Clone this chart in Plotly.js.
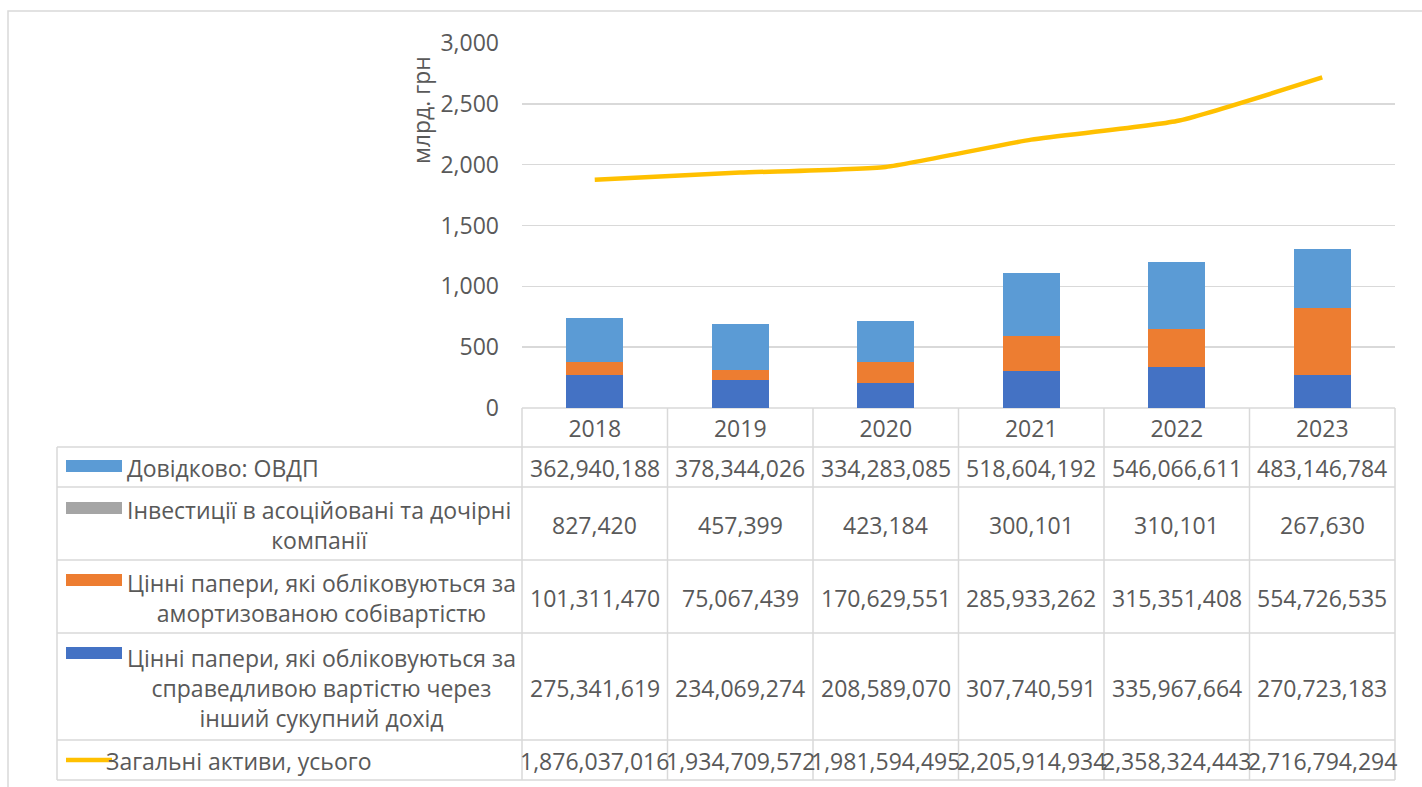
<!DOCTYPE html>
<html>
<head>
<meta charset="utf-8">
<script src="https://cdn.plot.ly/plotly-3.0.1.min.js"></script>
<style>html,body{margin:0;padding:0;background:#fff;}#chart{width:1422px;height:787px;}</style>
</head>
<body>
<div id="chart"></div>
<script>
// ---- data (thousand UAH) ----
const years = ['2018', '2019', '2020', '2021', '2022', '2023'];
const ovdp = [362940188, 378344026, 334283085, 518604192, 546066611, 483146784];
const investments = [827420, 457399, 423184, 300101, 310101, 267630];
const amortizedCost = [101311470, 75067439, 170629551, 285933262, 315351408, 554726535];
const fairValueOCI = [275341619, 234069274, 208589070, 307740591, 335967664, 270723183];
const totalAssets = [1876037016, 1934709572, 1981594495, 2205914934, 2358324443, 2716794294];

const seriesNames = {
  ovdp: 'Довідково: ОВДП',
  inv: 'Інвестиції в асоційовані та дочірні<br>компанії',
  amort: 'Цінні папери, які обліковуються за<br>амортизованою собівартістю',
  fair: 'Цінні папери, які обліковуються за<br>справедливою вартістю через<br>інший сукупний дохід',
  total: 'Загальні активи, усього'
};
const yTitle = 'млрд. грн';

// ---- styling ----
const C = {ovdp: '#5B9BD5', inv: '#A5A5A5', amort: '#ED7D31', fair: '#4472C4', total: '#FFC000'};
const FONT = '"Open Sans", "Noto Sans", sans-serif';
const TXT = '#595959';
const GRID = '#D9D9D9';
const FS = 23;

const W = 1422, H = 787;
const PL = 522, PR = 1395, PT = 43, PB = 408;
const px = x => (x - PL) / (PR - PL);
const py = y => (PB - y) / (PB - PT);
const toBn = arr => arr.map(v => v / 1e6);
const fmt = v => v.toLocaleString('en-US');

const traces = [
  {type: 'bar', name: 'fair', x: years, y: toBn(fairValueOCI), marker: {color: C.fair}, hoverinfo: 'skip'},
  {type: 'bar', name: 'amort', x: years, y: toBn(amortizedCost), marker: {color: C.amort}, hoverinfo: 'skip'},
  {type: 'bar', name: 'inv', x: years, y: toBn(investments), marker: {color: C.inv}, hoverinfo: 'skip'},
  {type: 'bar', name: 'ovdp', x: years, y: toBn(ovdp), marker: {color: C.ovdp}, hoverinfo: 'skip'},
  {type: 'scatter', mode: 'lines', name: 'total', x: years, y: toBn(totalAssets),
   line: {color: C.total, width: 4.5, shape: 'spline', smoothing: 0.5}, hoverinfo: 'skip'}
];

// ---- table geometry ----
const rowLines = [447, 487, 560, 633, 740, 780];
const colEdges = years.map((_, i) => PL + (PR - PL) * i / years.length).concat([PR]);
const shapes = [];
const line = (x0, y0, x1, y1) => shapes.push({type: 'line', xref: 'paper', yref: 'paper',
  x0: px(x0), y0: py(y0), x1: px(x1), y1: py(y1), line: {color: GRID, width: 1.5}, layer: 'below'});

// outer chart border
shapes.push({type: 'rect', xref: 'paper', yref: 'paper', x0: px(8), y0: py(11), x1: px(1440), y1: py(800),
  line: {color: GRID, width: 1.5}, fillcolor: 'rgba(0,0,0,0)'});
line(PL, PB, PR, PB);
rowLines.forEach(y => line(57, y, PR, y));
line(57, 447, 57, 780);
colEdges.forEach(x => line(x, PB, x, 780));

const rows = [
  {k: 'ovdp', vals: ovdp, top: 447, bot: 487, keyY: 466},
  {k: 'inv', vals: investments, top: 487, bot: 560, keyY: 508},
  {k: 'amort', vals: amortizedCost, top: 560, bot: 633, keyY: 580},
  {k: 'fair', vals: fairValueOCI, top: 633, bot: 740, keyY: 653},
  {k: 'total', vals: totalAssets, top: 740, bot: 780, keyY: 760}
];

const annotations = [];
rows.forEach(r => {
  const cy = (r.top + r.bot) / 2;
  if (r.k === 'total') {
    shapes.push({type: 'line', xref: 'paper', yref: 'paper', x0: px(66), x1: px(112), y0: py(r.keyY), y1: py(r.keyY),
      line: {color: C.total, width: 4.5}});
  } else {
    shapes.push({type: 'rect', xref: 'paper', yref: 'paper', x0: px(66), x1: px(122), y0: py(r.keyY - 6), y1: py(r.keyY + 6),
      line: {width: 0}, fillcolor: C[r.k]});
  }
  annotations.push({xref: 'paper', yref: 'paper', x: px(r.k === 'total' ? 104 : 125), y: py(cy + 1),
    xanchor: 'left', yanchor: 'middle', align: 'center', showarrow: false,
    text: seriesNames[r.k], font: {family: FONT, size: FS, color: TXT}});
  r.vals.forEach((v, i) => {
    annotations.push({xref: 'paper', yref: 'paper', x: px((colEdges[i] + colEdges[i + 1]) / 2), y: py(cy + 1),
      xanchor: 'center', yanchor: 'middle', showarrow: false,
      text: fmt(v), font: {family: FONT, size: FS, color: TXT}});
  });
});

annotations.push({xref: 'paper', yref: 'paper', x: px(421), y: py(110), xanchor: 'center', yanchor: 'middle',
  textangle: -90, showarrow: false, text: yTitle, font: {family: FONT, size: FS, color: TXT}});

const layout = {
  width: W, height: H,
  margin: {l: PL, r: W - PR, t: PT, b: H - PB, pad: 0},
  paper_bgcolor: '#fff', plot_bgcolor: '#fff',
  showlegend: false,
  barmode: 'stack', bargap: 0.61,
  font: {family: FONT, size: FS, color: TXT},
  xaxis: {type: 'category', showgrid: false, zeroline: false, showline: false, ticks: '',
    ticklabelstandoff: 5, tickfont: {family: FONT, size: FS, color: TXT}, fixedrange: true},
  yaxis: {range: [0, 3000], dtick: 500, tickformat: ',d', showgrid: true, gridcolor: GRID, gridwidth: 1.5,
    zeroline: false, showline: false, ticks: '', ticklabelstandoff: 22,
    tickfont: {family: FONT, size: FS, color: TXT}, fixedrange: true},
  shapes: shapes,
  annotations: annotations
};

Plotly.newPlot('chart', traces, layout, {displayModeBar: false, staticPlot: true});
</script>
</body>
</html>
